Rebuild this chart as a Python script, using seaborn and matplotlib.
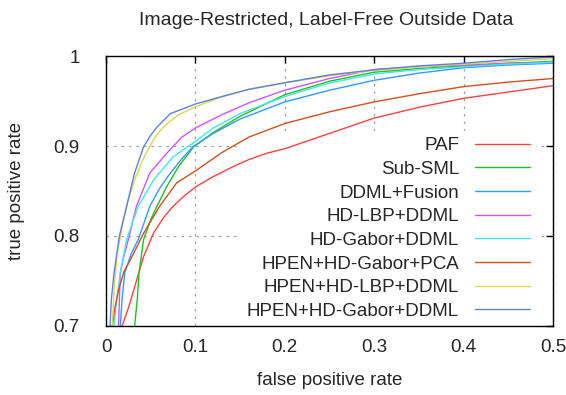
import pandas as pd
import seaborn as sns
import matplotlib
matplotlib.use("Agg")
import matplotlib.pyplot as plt

# ROC curves (fpr, tpr)
METHODS = [
    "PAF", "Sub-SML", "DDML+Fusion", "HD-LBP+DDML", "HD-Gabor+DDML",
    "HPEN+HD-Gabor+PCA", "HPEN+HD-LBP+DDML", "HPEN+HD-Gabor+DDML",
]
COLORS = ["#ff4040", "#20c020", "#3399ff", "#cc55ff", "#40e8e8",
          "#d05020", "#d8d850", "#6080e0"]

paf_fpr = [0.018, 0.025, 0.031, 0.042, 0.053, 0.064, 0.075, 0.088, 0.101, 0.120, 0.142, 0.160, 0.180, 0.200, 0.250, 0.300, 0.350, 0.400, 0.450, 0.500]
paf_tpr = [0.700, 0.720, 0.740, 0.777, 0.803, 0.820, 0.833, 0.845, 0.855, 0.866, 0.877, 0.885, 0.892, 0.897, 0.914, 0.931, 0.943, 0.953, 0.960, 0.967]

sub_fpr = [0.032, 0.035, 0.037, 0.042, 0.050, 0.057, 0.068, 0.081, 0.098, 0.120, 0.150, 0.200, 0.250, 0.300, 0.350, 0.400, 0.450, 0.500]
sub_tpr = [0.700, 0.730, 0.759, 0.796, 0.818, 0.833, 0.855, 0.877, 0.899, 0.915, 0.933, 0.957, 0.972, 0.982, 0.986, 0.989, 0.992, 0.994]

ddml_fpr = [0.016, 0.018, 0.021, 0.028, 0.036, 0.049, 0.060, 0.072, 0.085, 0.097, 0.120, 0.150, 0.200, 0.250, 0.300, 0.350, 0.400, 0.450, 0.500]
ddml_tpr = [0.700, 0.730, 0.759, 0.780, 0.796, 0.833, 0.853, 0.870, 0.886, 0.899, 0.914, 0.930, 0.949, 0.962, 0.973, 0.981, 0.987, 0.990, 0.992]

lbp_fpr = [0.014, 0.015, 0.016, 0.020, 0.025, 0.034, 0.049, 0.068, 0.085, 0.100, 0.130, 0.160, 0.200, 0.250, 0.300, 0.350, 0.400, 0.450, 0.500]
lbp_tpr = [0.700, 0.730, 0.759, 0.778, 0.796, 0.833, 0.870, 0.892, 0.910, 0.920, 0.935, 0.948, 0.962, 0.975, 0.985, 0.988, 0.990, 0.992, 0.993]

gab_fpr = [0.009, 0.012, 0.016, 0.023, 0.036, 0.053, 0.075, 0.097, 0.120, 0.150, 0.200, 0.250, 0.300, 0.350, 0.400, 0.450, 0.500]
gab_tpr = [0.700, 0.730, 0.759, 0.796, 0.833, 0.862, 0.888, 0.903, 0.920, 0.936, 0.955, 0.970, 0.980, 0.985, 0.988, 0.991, 0.993]

pca_fpr = [0.007, 0.010, 0.014, 0.020, 0.029, 0.042, 0.060, 0.079, 0.101, 0.130, 0.160, 0.200, 0.250, 0.300, 0.350, 0.400, 0.450, 0.500]
pca_tpr = [0.700, 0.720, 0.740, 0.760, 0.777, 0.803, 0.833, 0.859, 0.873, 0.893, 0.910, 0.925, 0.938, 0.949, 0.958, 0.966, 0.971, 0.975]

hlbp_fpr = [0.007, 0.009, 0.012, 0.018, 0.025, 0.032, 0.040, 0.047, 0.055, 0.064, 0.080, 0.101, 0.130, 0.160, 0.200, 0.250, 0.300, 0.350, 0.400, 0.450, 0.500]
hlbp_tpr = [0.700, 0.740, 0.777, 0.810, 0.840, 0.862, 0.882, 0.896, 0.910, 0.921, 0.934, 0.944, 0.955, 0.963, 0.970, 0.978, 0.984, 0.988, 0.991, 0.994, 0.997]

hgab_fpr = [0.0045, 0.006, 0.009, 0.015, 0.023, 0.032, 0.042, 0.050, 0.057, 0.072, 0.101, 0.130, 0.160, 0.198, 0.250, 0.303, 0.350, 0.400, 0.450, 0.500]
hgab_tpr = [0.700, 0.730, 0.759, 0.800, 0.833, 0.870, 0.899, 0.912, 0.921, 0.936, 0.947, 0.955, 0.963, 0.970, 0.979, 0.985, 0.989, 0.992, 0.996, 0.999]

SERIES = [
    (paf_fpr, paf_tpr), (sub_fpr, sub_tpr), (ddml_fpr, ddml_tpr),
    (lbp_fpr, lbp_tpr), (gab_fpr, gab_tpr), (pca_fpr, pca_tpr),
    (hlbp_fpr, hlbp_tpr), (hgab_fpr, hgab_tpr),
]

X_TICKS = [0, 0.1, 0.2, 0.3, 0.4, 0.5]
X_LABELS = ["0", "0.1", "0.2", "0.3", "0.4", "0.5"]
Y_TICKS = [0.7, 0.8, 0.9, 1.0]
Y_LABELS = ["0.7", "0.8", "0.9", "1"]


def main():
    rows = []
    for name, (fpr, tpr) in zip(METHODS, SERIES):
        for x, y in zip(fpr, tpr):
            rows.append({"method": name, "fpr": x, "tpr": y})
    df = pd.DataFrame(rows)

    sns.set_theme(style="white")
    plt.rcParams['font.family'] = ['Liberation Sans', 'DejaVu Sans']
    txt = "#262626"
    fs = 13.5

    fig = plt.figure(figsize=(5.66, 3.95), dpi=100)
    ax = fig.add_axes([0.1873, 0.1747, 0.7897, 0.6835])

    sns.lineplot(data=df, x="fpr", y="tpr", hue="method", hue_order=METHODS,
                 palette=COLORS, sort=False, estimator=None, units="method",
                 linewidth=1.0, ax=ax, zorder=3)

    ax.set_xlim(0, 0.5)
    ax.set_ylim(0.7, 1.0)
    ax.set_xticks(X_TICKS, X_LABELS)
    ax.set_yticks(Y_TICKS, Y_LABELS)
    ax.tick_params(direction="in", length=5, width=1, color="black",
                   top=True, right=True, labelsize=fs, labelcolor=txt)
    ax.tick_params(axis="x", pad=9.5)
    ax.tick_params(axis="y", pad=19)
    for sp in ax.spines.values():
        sp.set_color("black")
        sp.set_linewidth(1.0)
        sp.set_zorder(4)
    ax.grid(True, linestyle=(0, (2, 4)), color="#a0a0a0", linewidth=0.9)
    ax.set_axisbelow(True)

    ax.set_xlabel("false positive rate", fontsize=fs, color=txt)
    ax.xaxis.set_label_coords(0.5, -0.172)
    ax.set_ylabel("true positive rate", fontsize=fs, color=txt)
    ax.yaxis.set_label_coords(-0.181, 0.5)
    fig.suptitle("Image-Restricted, Label-Free Outside Data", x=0.577, y=0.9367,
                 va="baseline", fontsize=14, color=txt)

    # key box only hides the grid, curves are drawn over it (gnuplot style)
    leg = ax.legend(loc="upper right", bbox_to_anchor=(0.961, 0.7207), markerfirst=False,
                    frameon=True, framealpha=1.0, facecolor="white", edgecolor="none",
                    fontsize=fs, handlelength=2.93, handletextpad=0.85,
                    labelspacing=0.35, borderpad=0.3, borderaxespad=0.0,
                    fancybox=False)
    for t in leg.get_texts():
        t.set_color(txt)
    leg.set_zorder(2)

    fig.savefig("out.png", dpi=100)
    plt.close(fig)


if __name__ == "__main__":
    main()
